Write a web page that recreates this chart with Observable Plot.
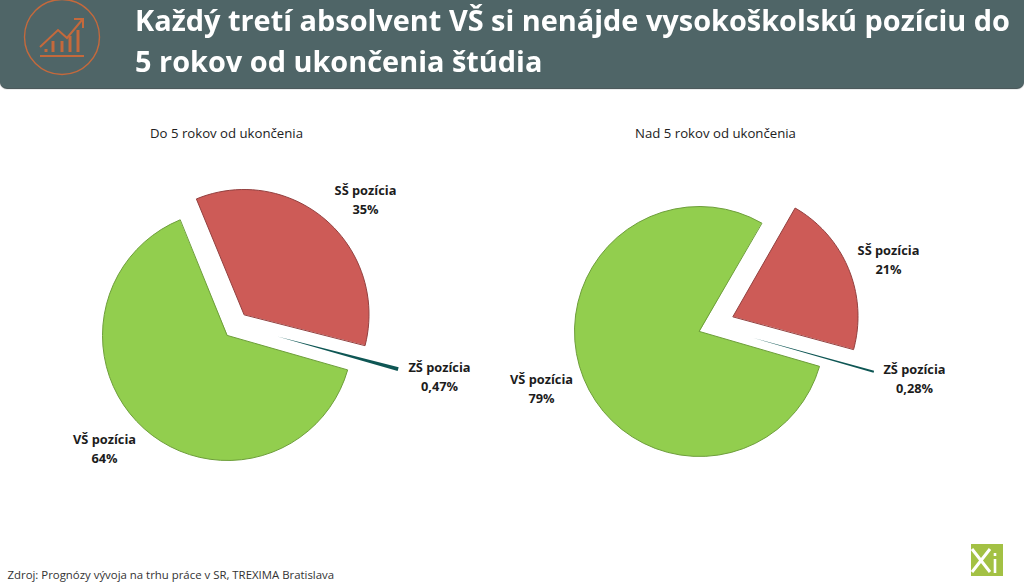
<!DOCTYPE html>
<html lang="sk">
<head>
<meta charset="utf-8">
<script src="https://cdn.jsdelivr.net/npm/d3@7"></script>
<script src="https://cdn.jsdelivr.net/npm/@observablehq/plot@0.6"></script>
<style>
html,body{margin:0;padding:0;background:#fff;width:1024px;height:582px;overflow:hidden}
#head{position:relative;width:1024px;height:88px;background:#4f6567;border-bottom-left-radius:7px;border-bottom-right-radius:7px;box-shadow:0 1px 1px #39484a;overflow:hidden}
#head h1{position:absolute;left:135px;top:-1px;margin:0;color:#fff;font:700 28.9px/41px "Open Sans",sans-serif;white-space:nowrap;filter:blur(.3px)}
#head svg{position:absolute;left:0;top:0}
#chart{position:absolute;left:0;top:90px}
#logo{position:absolute;left:971px;top:544px}
</style>
</head>
<body>
<div id="head">
<svg width="130" height="88" fill="none" stroke="#c4693c">
<circle cx="62" cy="37" r="37.5" stroke-width="1.4"/>
<path d="M40 56H84" stroke-width="2"/>
<path d="M40 47L58 30L67 38L82 20M74 19H83V28" stroke-width="2"/>
<path d="M46 52V49M53 52V41M62 52V41M70 52V36M78 52V30" stroke-width="3"/>
</svg>
<h1>Každý tretí absolvent VŠ si nenájde vysokoškolskú pozíciu do<br>5 rokov od ukončenia štúdia</h1>
</div>
<div id="chart"></div>
<svg id="logo" width="32" height="32">
<rect width="32" height="32" fill="#a3c144"/>
<path d="M1 5L19 28M19 5L1 28" stroke="#fff" stroke-width="3"/>
<path d="M24 15V29M24 9V12" stroke="#fff" stroke-width="2.6"/>
</svg>
<script>
const categories = ["SŠ pozícia", "ZŠ pozícia", "VŠ pozícia"];
const pieTitles = ["Do 5 rokov od ukončenia", "Nad 5 rokov od ukončenia"];
const valuesLeft = [35, 0.47, 64];
const valuesRight = [21, 0.28, 79];
const labelsLeft = ["35%", "0,47%", "64%"];
const labelsRight = ["21%", "0,28%", "79%"];
const source = "Zdroj: Prognózy vývoja na trhu práce v SR, TREXIMA Bratislava";

const fills = ["#cd5b57", "#0e5654", "#92ce4e"];
const strokes = ["#93403f", "none", "#6d9e3a"];
const radius = 125;
const toRad = Math.PI / 180;

// layout per pie: first-slice angle, apex of each slice, label anchors
const pies = [
  {values: valuesLeft, labels: labelsLeft, title: pieTitles[0], titleAt: [226, 133.5], start: 337.6,
   apex: [[243.5, 314], [277, 336], [227, 335]], labelAt: [[365, 198], [439, 374.5], [104, 447]]},
  {values: valuesRight, labels: labelsRight, title: pieTitles[1], titleAt: [715, 133.5], start: 29.8,
   apex: [[732.5, 316], [753, 337.5], [699, 331]], labelAt: [[888, 258], [914, 377], [541, 386.5]]}
];

const points = [], texts = [], heads = [];
pies.forEach((pie, p) => {
  const total = d3.sum(pie.values);
  let a = pie.start;
  heads.push({text: pie.title, x: pie.titleAt[0], y: pie.titleAt[1]});
  pie.values.forEach((v, i) => {
    const span = v / total * 360;
    const [cx, cy] = pie.apex[i];
    const id = p + "-" + i;
    points.push({id, x: cx, y: cy, fill: fills[i], stroke: strokes[i]});
    for (const t of d3.range(0, 1.0001, 1 / 48)) {
      const ang = (a + span * t) * toRad;
      points.push({id, x: cx + radius * Math.sin(ang), y: cy - radius * Math.cos(ang), fill: fills[i], stroke: strokes[i]});
    }
    a += span;
    texts.push({text: categories[i] + "\n" + pie.labels[i], x: pie.labelAt[i][0], y: pie.labelAt[i][1]});
  });
});

const plot = Plot.plot({
  width: 1024, height: 492,
  margin: 0,
  x: {domain: [0, 1024], range: [0, 1024], axis: null},
  y: {domain: [90, 582], range: [0, 492], axis: null},
  style: {background: "transparent"},
  marks: [
    Plot.line(points, {x: "x", y: "y", z: "id", fill: "fill", stroke: "stroke", strokeWidth: 1, curve: "linear-closed"}),
    Plot.text(heads, {x: "x", y: "y", text: "text", fontSize: 13.2, fill: "#222", fontFamily: "Open Sans, sans-serif"}),
    Plot.text(texts, {x: "x", y: "y", text: "text", fontSize: 12.8, fontWeight: 700, fill: "#1c1c1c", lineHeight: 1.48, fontFamily: "Open Sans, sans-serif"}),
    Plot.text([source], {x: [7], y: [574.5], text: d => d, textAnchor: "start", fontSize: 11.4, fill: "#333", fontFamily: "Open Sans, sans-serif"})
  ]
});
document.getElementById("chart").append(plot);
</script>
</body>
</html>
